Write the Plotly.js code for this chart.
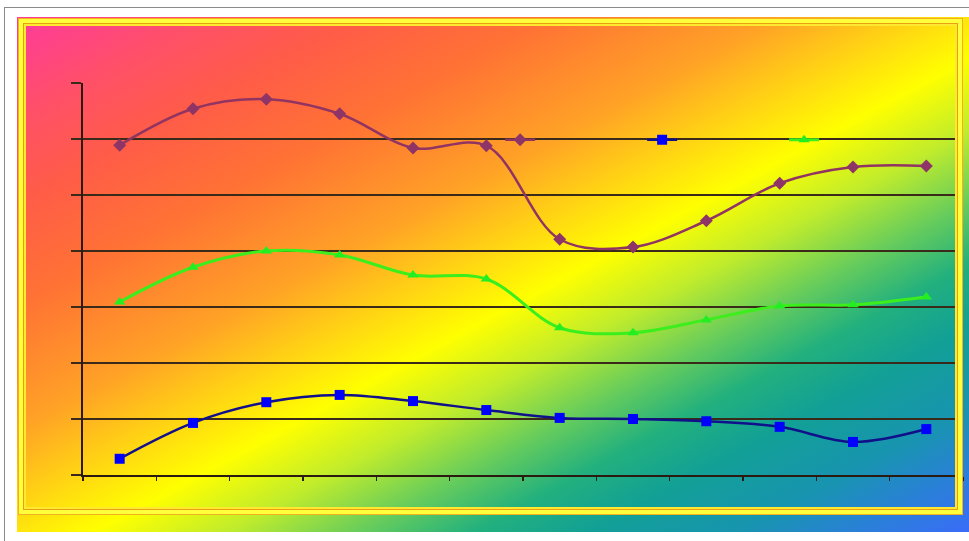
<!DOCTYPE html>
<html>
<head>
<meta charset="utf-8">
<script src="https://cdn.plot.ly/plotly-3.0.1.min.js"></script>
<style>
  html, body { margin: 0; padding: 0; background: #ffffff; width: 969px; height: 541px; overflow: hidden; }
  #outer { position: absolute; left: 4px; top: 7px; width: 980px; height: 560px; border-top: 1px solid #8a8a8a; border-left: 1px solid #8a8a8a; }
  #grad { position: absolute; left: 17px; top: 17px; width: 952px; height: 515px;
    background: linear-gradient(to bottom right,
      #ff3a9c 0%, #ff5068 10%, #ff5c48 18%, #ff7234 28%, #ffa226 40%, #ffd812 48%, #ffff00 54%,
      #c0ec2c 61%, #66cc5c 68%, #22b07e 74%, #12a096 80%, #1894b0 88%, #2a80d8 94%, #3a6cf8 100%); }
  #frame { position: absolute; left: 19px; top: 19px; width: 935px; height: 487px; z-index: 5; pointer-events: none;
    border: 4px solid #ffff3c;
    box-shadow: inset 0 0 0 1px #e8a010, inset 0 0 0 3px #ffe830, 0 0 0 1px #f0b020; }
  #chart { position: absolute; left: 0; top: 0; width: 969px; height: 541px; z-index: 2; }
</style>
</head>
<body>
<div id="outer"></div>
<div id="grad"></div>
<div id="chart"></div>
<div id="frame"></div>
<script>
const categories = ['1','2','3','4','5','6','7','8','9','10','11','12'];
const seriesPurple = [58.9, 65.4, 67.1, 64.5, 58.4, 58.8, 42.1, 40.7, 45.4, 52.1, 55.0, 55.2];
const seriesGreen  = [30.9, 37.1, 40.0, 39.3, 35.7, 35.0, 26.3, 25.4, 27.7, 30.2, 30.4, 31.8];
const seriesBlue   = [2.9, 9.3, 13.0, 14.3, 13.2, 11.6, 10.2, 10.0, 9.6, 8.6, 5.9, 8.2];
const yTicks = [0, 10, 20, 30, 40, 50, 60, 70];

const traces = [
  { x: categories, y: seriesPurple, name: ' ', type: 'scatter', mode: 'lines+markers',
    line: { color: '#923462', width: 2.5, shape: 'spline', smoothing: 1 },
    marker: { symbol: 'diamond', size: 10, color: '#8e3466' }, legendrank: 1 },
  { x: categories, y: seriesBlue, name: ' ', type: 'scatter', mode: 'lines+markers',
    line: { color: '#10108a', width: 2.5, shape: 'spline', smoothing: 1 },
    marker: { symbol: 'square', size: 10, color: '#0000ff' }, legendrank: 2 },
  { x: categories, y: seriesGreen, name: ' ', type: 'scatter', mode: 'lines+markers',
    line: { color: '#3cee1c', width: 3, shape: 'spline', smoothing: 1 },
    marker: { symbol: 'triangle-up', size: 10, color: '#22ee22' }, legendrank: 3 }
];

const layout = {
  width: 969, height: 541,
  margin: { l: 83, r: 6, t: 83, b: 66, pad: 0, autoexpand: false },
  paper_bgcolor: 'rgba(0,0,0,0)',
  plot_bgcolor: 'rgba(0,0,0,0)',
  showlegend: true,
  legend: { orientation: 'h', x: 0.474, xanchor: 'left', y: 0.855, yanchor: 'middle',
    bgcolor: 'rgba(0,0,0,0)', entrywidth: 97, entrywidthmode: 'pixels',
    font: { size: 2 }, traceorder: 'normal' },
  xaxis: { type: 'category', range: [-0.5, 11.5], showgrid: false, zeroline: false,
    showline: true, linecolor: '#2a1a10', linewidth: 2,
    ticks: 'outside', tickson: 'boundaries', ticklen: 4, tickcolor: '#2a1a10', tickwidth: 1.5,
    showticklabels: false, fixedrange: true },
  yaxis: { range: [0, 70], tickvals: yTicks, showgrid: true, gridcolor: '#3a2a1a', gridwidth: 1.5,
    zeroline: false, showline: true, linecolor: '#2a1a10', linewidth: 2,
    ticks: 'outside', ticklen: 10, tickcolor: '#3a2a1a', tickwidth: 1.5,
    showticklabels: false, fixedrange: true }
};

Plotly.newPlot('chart', traces, layout, { displayModeBar: false, staticPlot: true });
</script>
</body>
</html>
